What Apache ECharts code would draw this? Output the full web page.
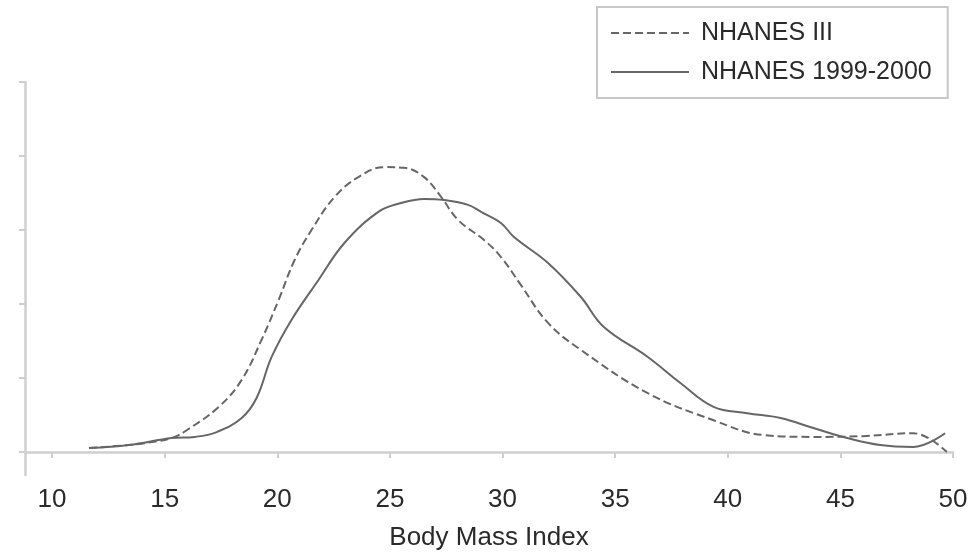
<!DOCTYPE html>
<html>
<head>
<meta charset="utf-8">
<script src="https://cdn.jsdelivr.net/npm/echarts@6/dist/echarts.min.js"></script>
<style>
  html, body { margin: 0; padding: 0; background: #fff; }
  #main { width: 975px; height: 558px; }
</style>
</head>
<body>
<div id="main"></div>
<script>
// BMI values (x) and density (y, arbitrary units)
var bmiIII = [11.64, 13.41, 14.43, 15.32, 15.98, 17.40, 18.42, 19.30, 20.06, 20.77, 21.52, 22.54, 23.60, 24.75, 25.64, 26.52, 27.28, 28.03, 29.18, 29.93, 30.82, 32.02, 33.48, 36.45, 39.37, 41.58, 43.80, 46.01, 48.23, 49.73];
var densityIII = [0.11, 0.19, 0.27, 0.38, 0.59, 1.22, 1.95, 3.03, 4.11, 5.19, 6.00, 6.89, 7.43, 7.70, 7.68, 7.43, 6.89, 6.27, 5.73, 5.27, 4.51, 3.49, 2.76, 1.59, 0.86, 0.46, 0.41, 0.43, 0.51, 0.00];

var bmi99 = [11.64, 13.41, 15.32, 16.33, 17.31, 18.42, 19.08, 19.75, 20.63, 21.83, 22.98, 24.49, 25.50, 26.52, 27.41, 28.47, 29.05, 29.93, 30.51, 32.02, 33.48, 34.50, 36.45, 37.91, 39.37, 40.87, 42.34, 43.80, 45.31, 46.77, 48.23, 49.65];
var density99 = [0.11, 0.19, 0.38, 0.41, 0.54, 0.92, 1.46, 2.57, 3.57, 4.65, 5.65, 6.49, 6.73, 6.84, 6.81, 6.68, 6.49, 6.19, 5.81, 5.11, 4.19, 3.38, 2.57, 1.86, 1.22, 1.05, 0.92, 0.65, 0.38, 0.19, 0.14, 0.51];

var xTicks = [10, 15, 20, 25, 30, 35, 40, 45, 50];
var yTicks = [0, 2, 4, 6, 8, 10];

function pairs(xs, ys) {
  return xs.map(function (x, i) { return [x, ys[i]]; });
}

var axisGrey = '#cfcfcf';
var lineGrey = '#666';
var font = 'Liberation Sans, Arial, sans-serif';

var chart = echarts.init(document.getElementById('main'));
chart.setOption({
  animation: false,
  backgroundColor: '#fff',
  grid: { left: 25, right: 22, top: 82, bottom: 83, containLabel: false, outerBoundsMode: 'none' },
  legend: {
    orient: 'vertical',
    left: 597,
    top: 7,
    padding: [12, 16, 12, 13],
    borderColor: '#c8c8c8',
    borderWidth: 2,
    itemWidth: 78,
    itemHeight: 14,
    itemGap: 11,
    selectedMode: false,
    itemStyle: { opacity: 0 },
    textStyle: { fontFamily: font, fontSize: 25, color: '#2a2a2a', lineHeight: 28, padding: [0, 0, 0, 7] },
    data: ['NHANES III', 'NHANES 1999-2000']
  },
  xAxis: {
    type: 'value',
    min: 8.8,
    max: 50,
    name: 'Body Mass Index',
    nameLocation: 'middle',
    nameGap: 50,
    nameTextStyle: { fontFamily: font, fontSize: 26, color: '#2a2a2a' },
    splitLine: { show: false },
    axisLine: { lineStyle: { color: axisGrey, width: 2.5 } },
    axisTick: { customValues: xTicks, length: 6, lineStyle: { color: axisGrey, width: 2 } },
    axisLabel: { customValues: xTicks, margin: 12, fontFamily: font, fontSize: 26, color: '#2a2a2a' }
  },
  yAxis: {
    type: 'value',
    min: -0.62,
    max: 10,
    splitLine: { show: false },
    axisLine: { show: true, lineStyle: { color: axisGrey, width: 2.5 } },
    axisTick: { show: true, customValues: yTicks, length: 6, lineStyle: { color: axisGrey, width: 2 } },
    axisLabel: { show: false, customValues: yTicks }
  },
  series: [
    {
      name: 'NHANES III',
      type: 'line',
      smooth: 0.4,
      symbol: 'none',
      lineStyle: { color: lineGrey, width: 2, type: [8, 4] },
      itemStyle: { color: lineGrey },
      data: pairs(bmiIII, densityIII)
    },
    {
      name: 'NHANES 1999-2000',
      type: 'line',
      smooth: 0.4,
      symbol: 'none',
      lineStyle: { color: lineGrey, width: 2 },
      itemStyle: { color: lineGrey },
      data: pairs(bmi99, density99)
    }
  ]
});
</script>
</body>
</html>
